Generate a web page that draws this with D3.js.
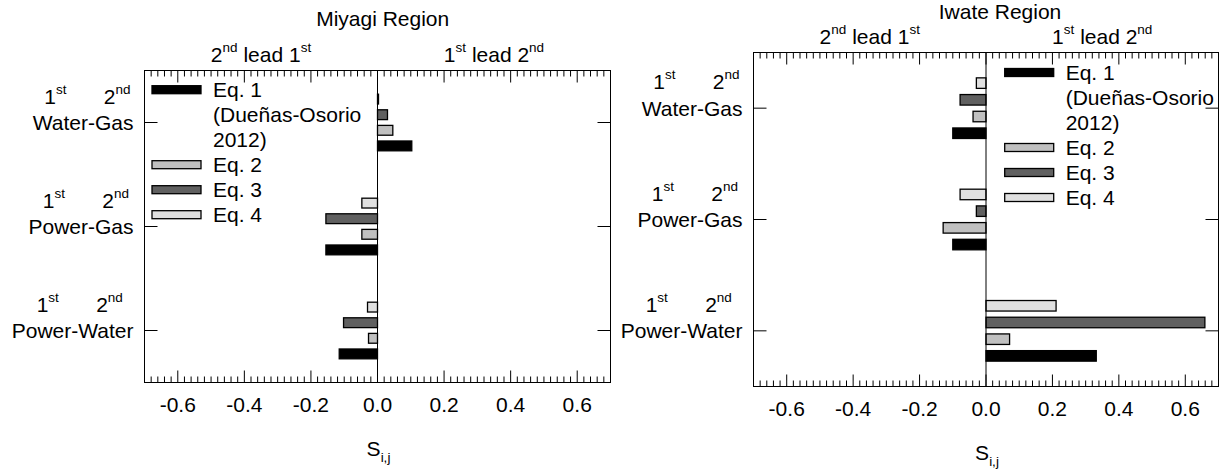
<!DOCTYPE html>
<html>
<head>
<meta charset="utf-8">
<script src="https://cdn.jsdelivr.net/npm/d3@7"></script>
<style>
  body { margin: 0; background: #fff; }
  text { font-family: "Liberation Sans", Arial, Helvetica, sans-serif; fill: #000; }
</style>
</head>
<body>
<div id="chart"></div>
<script>
// categories and series
var categories = ["Water-Gas", "Power-Gas", "Power-Water"];
var seriesNames = ["Eq. 1", "Eq. 2", "Eq. 3", "Eq. 4"];
var legendLines = [["Eq. 1", "(Dueñas-Osorio", "2012)"], ["Eq. 2"], ["Eq. 3"], ["Eq. 4"]];
var seriesColors = ["#000000", "#c0c0c0", "#606060", "#e0e0e0"];

// S_i,j values, per category (Water-Gas, Power-Gas, Power-Water)
var miyagiEq1 = [0.103, -0.155, -0.115];
var miyagiEq2 = [0.046, -0.047, -0.027];
var miyagiEq3 = [0.030, -0.155, -0.102];
var miyagiEq4 = [0.003, -0.047, -0.030];

var iwateEq1 = [-0.100, -0.100, 0.332];
var iwateEq2 = [-0.039, -0.129, 0.071];
var iwateEq3 = [-0.078, -0.029, 0.659];
var iwateEq4 = [-0.029, -0.078, 0.211];

var xTicks = [-0.6, -0.4, -0.2, 0.0, 0.2, 0.4, 0.6];
var xDomain = [-0.7, 0.7];

var svgWidth = 1224;
var svgHeight = 473;
var font = 21;
var supFont = 13.5;

var panels = [
  { title: "Miyagi Region", series: [miyagiEq1, miyagiEq2, miyagiEq3, miyagiEq4],
    left: 144.5, right: 610.5, top: 70.5, bottom: 382.5,
    titleX: 382.7, titleY: 26, legendLeft: 152, legendTop: 89.7 },
  { title: "Iwate Region", series: [iwateEq1, iwateEq2, iwateEq3, iwateEq4],
    left: 753.5, right: 1218.5, top: 52.5, bottom: 386.5,
    titleX: 1000, titleY: 18.5, legendLeft: 1004.7, legendTop: 72.5 }
];

var svg = d3.select("#chart")
  .append("svg")
  .attr("width", svgWidth)
  .attr("height", svgHeight);

// text with superscript / subscript pieces: [string, shift]
function richText(sel, parts) {
  var prev = 0;
  parts.forEach(function(p) {
    var shift = p[1];
    sel.append("tspan")
      .attr("dy", shift - prev)
      .attr("font-size", shift === 0 ? font : supFont)
      .text(p[0]);
    prev = shift;
  });
}

function styleAxis(g) {
  g.select(".domain").remove();
  g.selectAll(".tick line").attr("stroke", "#000").attr("stroke-width", 1);
  g.attr("font-size", font)
    .attr("font-family", "'Liberation Sans', Arial, Helvetica, sans-serif");
}

var minorTicks = d3.range(-34, 35)
  .filter(function(k) { return k % 10 !== 0; })
  .map(function(k) { return k * 0.02; });

panels.forEach(function(p) {
  var g = svg.append("g");

  var x = d3.scaleLinear().domain(xDomain).range([p.left, p.right]);
  var y = d3.scaleBand().domain(categories).range([p.top, p.bottom]);
  var ySub = d3.scaleBand()
    .domain(seriesNames.slice().reverse())
    .range([y.bandwidth() * 0.2, y.bandwidth() * 0.8])
    .paddingInner(0.37)
    .paddingOuter(0.185);

  // bars
  p.series.forEach(function(values, s) {
    g.selectAll(".bar" + s)
      .data(values)
      .enter()
      .append("rect")
      .attr("x", function(d) { return Math.min(x(0), x(d)); })
      .attr("width", function(d) { return Math.abs(x(d) - x(0)); })
      .attr("y", function(d, i) { return y(categories[i]) + ySub(seriesNames[s]); })
      .attr("height", ySub.bandwidth())
      .attr("fill", seriesColors[s])
      .attr("stroke", "#000")
      .attr("stroke-width", 1.3);
  });

  // frame and zero line
  g.append("rect")
    .attr("x", p.left).attr("y", p.top)
    .attr("width", p.right - p.left).attr("height", p.bottom - p.top)
    .attr("fill", "none").attr("stroke", "#000").attr("stroke-width", 1);
  g.append("line")
    .attr("x1", x(0)).attr("x2", x(0))
    .attr("y1", p.top).attr("y2", p.bottom)
    .attr("stroke", "#000").attr("stroke-width", 1);

  // x axes, ticks inward
  g.append("g")
    .attr("transform", "translate(0," + p.bottom + ")")
    .call(d3.axisBottom(x).tickValues(xTicks).tickSize(-12).tickPadding(14.6).offset(0)
      .tickFormat(function(d) { return d.toFixed(1); }))
    .call(styleAxis);
  g.append("g")
    .attr("transform", "translate(0," + p.bottom + ")")
    .call(d3.axisBottom(x).tickValues(minorTicks).tickSize(-6).tickFormat("").offset(0))
    .call(styleAxis);
  g.append("g")
    .attr("transform", "translate(0," + p.top + ")")
    .call(d3.axisTop(x).tickValues(xTicks).tickSize(-12).tickFormat("").offset(0))
    .call(styleAxis);
  g.append("g")
    .attr("transform", "translate(0," + p.top + ")")
    .call(d3.axisTop(x).tickValues(minorTicks).tickSize(-6).tickFormat("").offset(0))
    .call(styleAxis);

  // category ticks on both sides
  g.append("g")
    .attr("transform", "translate(" + p.left + ",0)")
    .call(d3.axisLeft(y).tickSize(-13).tickFormat("").offset(0))
    .call(styleAxis);
  g.append("g")
    .attr("transform", "translate(" + p.right + ",0)")
    .call(d3.axisRight(y).tickSize(-13).tickFormat("").offset(0))
    .call(styleAxis);

  // category labels
  var labelRight = p.left - 11;
  categories.forEach(function(c) {
    var cy = y(c) + y.bandwidth() / 2;
    var lab = g.append("text")
      .attr("x", labelRight)
      .attr("y", cy + 7.5)
      .attr("text-anchor", "end")
      .attr("font-size", font)
      .text(c);
    var w = lab.node().getComputedTextLength();
    var first = labelRight - 0.36 * w - 53;
    richText(g.append("text").attr("x", first).attr("y", cy - 19), [["1", 0], ["st", -10]]);
    richText(g.append("text").attr("x", first + 59.5).attr("y", cy - 19), [["2", 0], ["nd", -10]]);
  });

  // lead labels above the frame
  richText(g.append("text")
      .attr("x", (p.left + x(0)) / 2).attr("y", p.top - 9)
      .attr("text-anchor", "middle"),
    [["2", 0], ["nd", -10], [" lead 1", 0], ["st", -10]]);
  richText(g.append("text")
      .attr("x", (x(0) + p.right) / 2).attr("y", p.top - 9)
      .attr("text-anchor", "middle"),
    [["1", 0], ["st", -10], [" lead 2", 0], ["nd", -10]]);

  // title
  g.append("text")
    .attr("x", p.titleX).attr("y", p.titleY)
    .attr("text-anchor", "middle")
    .attr("font-size", font)
    .text(p.title);

  // x axis title S_i,j
  richText(g.append("text")
      .attr("x", x(0) + 1).attr("y", p.bottom + 73)
      .attr("text-anchor", "middle"),
    [["S", 0], ["i,j", 6]]);

  // legend
  var row = 0;
  legendLines.forEach(function(lines, s) {
    var ly = p.legendTop + row * 25;
    g.append("rect")
      .attr("x", p.legendLeft).attr("y", ly - 4)
      .attr("width", 49).attr("height", 8)
      .attr("fill", seriesColors[s])
      .attr("stroke", "#000").attr("stroke-width", 1.3);
    lines.forEach(function(t, k) {
      g.append("text")
        .attr("x", p.legendLeft + 61)
        .attr("y", ly + k * 25 + 7)
        .attr("font-size", font)
        .text(t);
    });
    row += lines.length;
  });
});
</script>
</body>
</html>
